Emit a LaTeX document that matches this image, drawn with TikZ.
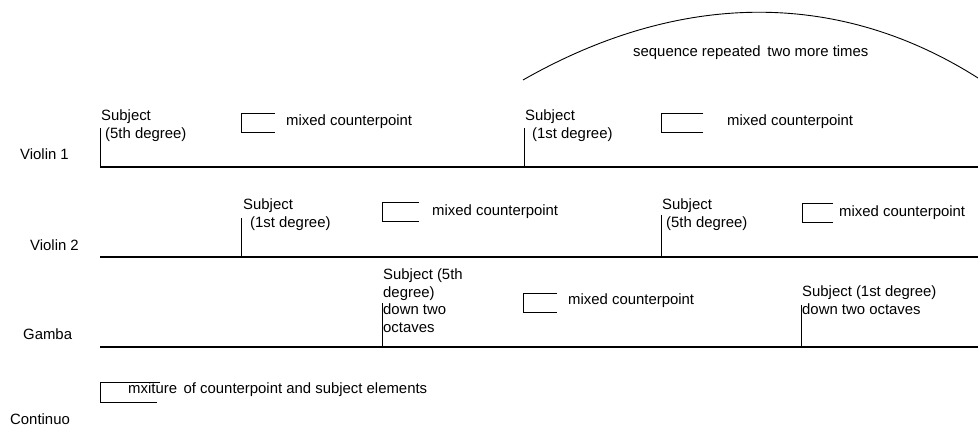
\documentclass[tikz,border=0pt]{standalone}
\usepackage{fontspec}
\setmainfont{Liberation Sans}
\begin{document}
\begin{tikzpicture}[x=1pt,y=-1pt,
  txt/.style={inner sep=0pt,anchor=base west,align=left,
    font=\fontsize{14.9}{17.5}\selectfont},
  staff/.style={line width=1.3pt},
  entry/.style={line width=0.8pt},
  bracket/.style={line width=0.9pt}]
\useasboundingbox (0,0) rectangle (978,435);

% instrument names
\node[txt] (lblV1) at (20,160) {Violin 1};
\node[txt] (lblV2) at (30,251) {Violin 2};
\node[txt] (lblGa) at (23,340) {Gamba};
\node[txt] (lblCo) at (10,425) {Continuo};

% staff lines
\coordinate (v1s) at (100,167); \coordinate (v1e) at (978,167);
\coordinate (v2s) at (100,257); \coordinate (v2e) at (978,257);
\coordinate (gas) at (100,347); \coordinate (gae) at (978,347);
\draw[staff] (v1s) -- (v1e);
\draw[staff] (v2s) -- (v2e);
\draw[staff] (gas) -- (gae);

% subject entries: label (anchored on its last line), then a tick down to the staff
\node[txt] (v1subA) at (101,138.5) {Subject\\\hspace*{4pt}(5th degree)};
\coordinate (v1tA) at (100,128); \coordinate (v1bA) at (100,167);
\draw[entry] (v1tA) -- (v1bA);

\node[txt] (v1subB) at (525,138.5) {Subject\\\hspace*{7pt}(1st degree)};
\coordinate (v1tB) at (524,128); \coordinate (v1bB) at (524,167);
\draw[entry] (v1tB) -- (v1bB);

\node[txt] (v2subA) at (243,227.5) {Subject\\\hspace*{7pt}(1st degree)};
\coordinate (v2tA) at (241,218); \coordinate (v2bA) at (241,257);
\draw[entry] (v2tA) -- (v2bA);

\node[txt] (v2subB) at (662,227.5) {Subject\\\hspace*{4pt}(5th degree)};
\coordinate (v2tB) at (661,215); \coordinate (v2bB) at (661,257);
\draw[entry] (v2tB) -- (v2bB);

\node[txt] (gasubA) at (383,332.5) {Subject (5th\\degree)\\down two\\octaves};
\coordinate (gatA) at (382,303); \coordinate (gabA) at (382,347);
\draw[entry] (gatA) -- (gabA);

\node[txt] (gasubB) at (802,314.5) {Subject (1st degree)\\down two octaves};
\coordinate (gatB) at (801,305); \coordinate (gabB) at (801,347);
\draw[entry] (gatB) -- (gabB);

% counterpoint brackets and their labels
\draw[bracket] (275,113) -| (241,132) -- (275,132);
\node[txt] (v1cA) at (286,126) {mixed counterpoint};

\draw[bracket] (703,113) -| (661,132) -- (703,132);
\node[txt] (v1cB) at (727,126) {mixed counterpoint};

\draw[bracket] (419,202) -| (382,221) -- (419,221);
\node[txt] (v2cA) at (432,216) {mixed counterpoint};

\draw[bracket] (833,203) -| (802,222) -- (833,222);
\node[txt] (v2cB) at (839,217) {mixed counterpoint};

\draw[bracket] (557,293) -| (523,312) -- (557,312);
\node[txt] (gac) at (568,305) {mixed counterpoint};

\draw[bracket] (160,382) -| (100,402) -- (157,402);
\node[txt] (coc) at (128,394) {mxiture\, of counterpoint and subject elements};

% repeat arc
\coordinate (arcL) at (523,80);
\coordinate (arcR) at (978,78);
\draw[line width=0.9pt] (arcL) .. controls (679,-9) and (838,-11) .. (arcR);
\node[txt] (rep) at (633,57) {sequence repeated\, two more times};
\end{tikzpicture}
\end{document}
